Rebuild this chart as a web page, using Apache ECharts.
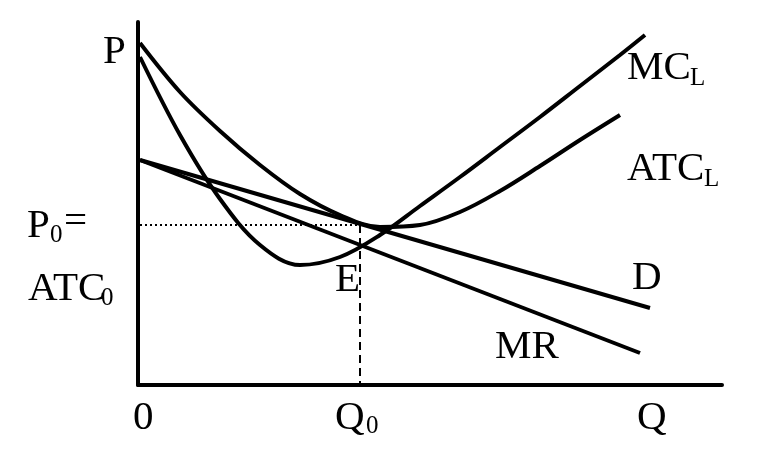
<!DOCTYPE html>
<html>
<head>
<meta charset="utf-8">
<script src="https://cdn.jsdelivr.net/npm/echarts@6/dist/echarts.min.js"></script>
<style>html,body{margin:0;padding:0;background:#fff}#c{width:769px;height:454px}</style>
</head>
<body>
<div id="c"></div>
<script>
// Quantity / price in chart units (origin at the axes' corner)
const mcL = [[2,328],[42,250],[82,186],[122,140],[162,120],[202,128],[242,150],[282,179],[322,208],[362,238],[402,268],[442,299],[482,330],[507,350]];
const atcL = [[2,342],[42,293],[82,254],[122,220],[162,191],[202,170],[242,158],[282,160],[322,173],[362,194],[402,219],[442,245],[482,270]];
const demand = [[2,225],[512,77]];
const mr = [[2,225],[502,32]];
const q0 = 222;
const p0 = 160;
const xTickLabels = ['0', 'Q', 'Q'];

const F = '"Liberation Serif", "DejaVu Serif", serif';
const chart = echarts.init(document.getElementById('c'));
const big = 41, sub = 25;
function t(x, y, s, size) {
  return {type:'text', left:x, top:y, style:{text:s, font: size + 'px ' + F, fill:'#000'}};
}

chart.setOption({
  animation:false,
  grid:{left:138, top:22, width:584, height:363},
  xAxis:{type:'value', min:0, max:584, axisLine:{lineStyle:{color:'#000', width:4}}, axisTick:{show:false}, axisLabel:{show:false}, splitLine:{show:false}},
  yAxis:{type:'value', min:0, max:363, axisLine:{show:true, lineStyle:{color:'#000', width:4}}, axisTick:{show:false}, axisLabel:{show:false}, splitLine:{show:false}},
  series:[
    {type:'line', data:mcL, smooth:0.35, showSymbol:false, lineStyle:{color:'#000', width:4}},
    {type:'line', data:atcL, smooth:0.35, showSymbol:false, lineStyle:{color:'#000', width:4}},
    {type:'line', data:demand, showSymbol:false, lineStyle:{color:'#000', width:4}},
    {type:'line', data:mr, showSymbol:false, lineStyle:{color:'#000', width:4}},
    {type:'line', data:[[2,p0],[q0,p0]], showSymbol:false, lineStyle:{color:'#000', width:2, type:[2,3]}},
    {type:'line', data:[[q0,p0],[q0,0]], showSymbol:false, lineStyle:{color:'#000', width:2, type:[8,5]}}
  ],
  graphic:[
    t(103, 32, 'P', big),
    t(627, 48, 'MC', big),
    t(690, 66, 'L', sub),
    t(627, 149, 'ATC', big),
    t(704, 167, 'L', sub),
    t(632, 258, 'D', big),
    t(495, 327, 'MR', big),
    t(335, 260, 'E', big),
    t(27, 206, 'P', big),
    t(50, 223, '0', sub),
    t(64, 202, '=', big),
    t(28, 269, 'ATC', big),
    t(101, 286, '0', sub),
    t(133, 398, xTickLabels[0], big),
    t(335, 398, xTickLabels[1], big),
    t(366, 414, '0', sub),
    t(637, 398, xTickLabels[2], big)
  ]
});
</script>
</body>
</html>
